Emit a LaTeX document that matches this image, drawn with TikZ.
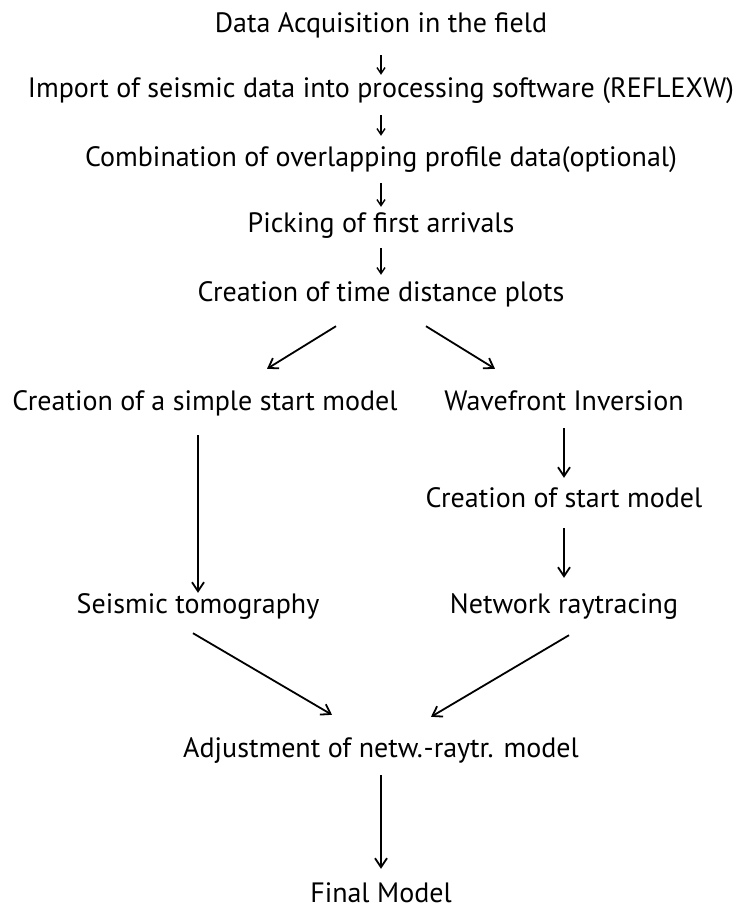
\documentclass[tikz,border=0pt]{standalone}
\usepackage{fontspec}
\setmainfont{PT Sans}
\usetikzlibrary{arrows.meta}
\tikzset{
  stepnode/.style={anchor=base, inner sep=0pt, text height=18pt, text depth=6pt,
    font=\fontsize{28}{32}\selectfont},
  smallflow/.style={-{Straight Barb[length=6pt,width=8pt]}, line width=1.4pt},
  flow/.style={-{Straight Barb[length=9pt,width=12pt]}, line width=1.8pt},
}
\begin{document}
\begin{tikzpicture}[x=1pt, y=-1pt]
\useasboundingbox (0,0) rectangle (735,911);
\node[stepnode] (P_0_0) at (381,32) {Data Acquisition in the field};
\node[stepnode] (P_0_1) at (381,97) {Import of seismic data into processing software (REFLEXW)};
\draw[smallflow, shorten <=17pt, shorten >=4pt] (P_0_0) -- (P_0_1);
\node[stepnode] (P_0_2) at (381,166) {Combination of overlapping profile data(optional)};
\draw[smallflow, shorten <=12pt, shorten >=12pt] (P_0_1) -- (P_0_2);
\node[stepnode] (P_0_3) at (381,232) {Picking of first arrivals};
\draw[smallflow, shorten <=11pt, shorten >=7pt] (P_0_2) -- (P_0_3);
\node[stepnode] (P_0_4) at (381,301) {Creation of time distance plots};
\draw[smallflow, shorten <=10pt, shorten >=8pt] (P_0_3) -- (P_0_4);
% two branches
\node[stepnode] (P_-1_5) at (205,410) {Creation of a simple start model};
\draw[flow] ([xshift=-45pt, yshift=-19pt]P_0_4.south) -- ([xshift=62pt, yshift=23pt]P_-1_5.north);
\node[stepnode] (P_1_5) at (564,410) {Wavefront Inversion};
\draw[flow] ([xshift=45pt, yshift=-19pt]P_0_4.south) -- ([xshift=-69pt, yshift=23pt]P_1_5.north);
\node[stepnode] (P_1_6) at (564,507) {Creation of start model};
\draw[flow, shorten <=12pt, shorten >=11pt] (P_1_5) -- (P_1_6);
\node[stepnode] (P_-1_7) at (198,613) {Seismic tomography};
\draw[flow, shorten <=19pt, shorten >=2pt] (P_-1_7 |- P_-1_5.south) -- (P_-1_7);
\node[stepnode] (P_1_7) at (564,613) {Network raytracing};
\draw[flow, shorten <=15pt, shorten >=17pt] (P_1_6) -- (P_1_7);
% merge
\node[stepnode] (P_0_8) at (381,757) {Adjustment of netw.{}\kern1pt-raytr. model};
\draw[flow] ([xshift=-5pt, yshift=-14pt]P_-1_7.south) -- ([xshift=-49pt, yshift=24pt]P_0_8.north);
\draw[flow] ([xshift=5pt, yshift=-16pt]P_1_7.south) -- ([xshift=50pt, yshift=22pt]P_0_8.north);
\node[stepnode, text depth=1pt] (P_0_9) at (381,902) {Final Model};
\draw[flow, shorten <=12pt, shorten >=15pt] (P_0_8) -- (P_0_9);
\end{tikzpicture}
\end{document}
